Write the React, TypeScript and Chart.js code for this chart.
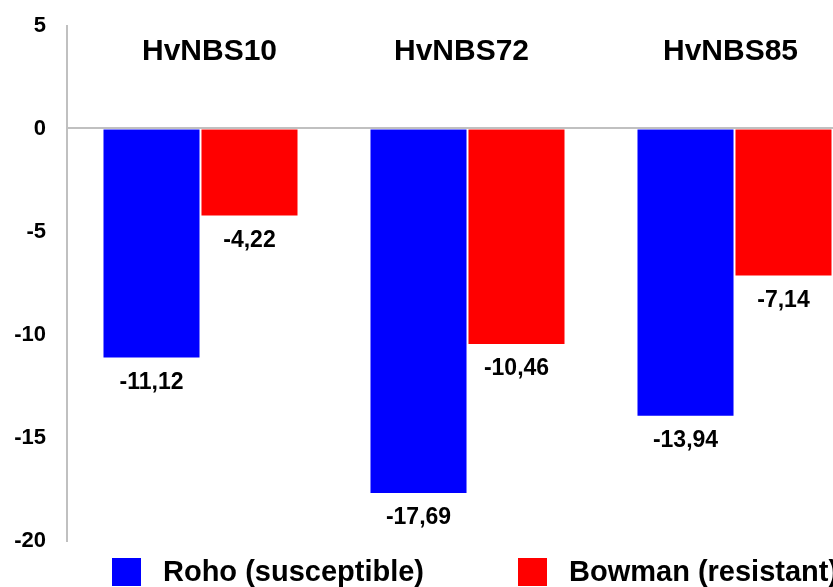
import React, { useEffect, useRef } from "react";
import { Chart, registerables } from "chart.js";

Chart.register(...registerables);

const categories = ["HvNBS10", "HvNBS72", "HvNBS85"];
const rohoValues = [-11.12, -17.69, -13.94];
const bowmanValues = [-4.22, -10.46, -7.14];
const seriesLabels = ["Roho (susceptible)", "Bowman (resistant)"];
const seriesColors = ["#0000ff", "#ff0000"];
const yMin = -20;
const yMax = 5;
const yStep = 5;

const FONT = "'Liberation Sans', Arial, Helvetica, sans-serif";

// layout-only horizontal nudges for the category titles
const titleNudges = [9, -6, -4];

const valueLabelPlugin = {
  id: "valueLabels",
  afterDatasetsDraw(chart: any) {
    const ctx = chart.ctx;
    ctx.save();
    ctx.font = `bold 23px ${FONT}`;
    ctx.fillStyle = "#000";
    ctx.textAlign = "center";
    ctx.textBaseline = "middle";
    chart.data.datasets.forEach((ds: any, di: number) => {
      const meta = chart.getDatasetMeta(di);
      meta.data.forEach((bar: any, i: number) => {
        const v = ds.data[i] as number;
        const txt = v.toFixed(2).replace(".", ",");
        ctx.fillText(txt, bar.x, bar.y + 25);
      });
    });
    ctx.restore();
  },
};

const categoryTitlePlugin = {
  id: "categoryTitles",
  afterDatasetsDraw(chart: any) {
    const ctx = chart.ctx;
    const xs = chart.scales.x;
    const ys = chart.scales.y;
    ctx.save();
    ctx.font = `bold 30px ${FONT}`;
    ctx.fillStyle = "#000";
    ctx.textAlign = "center";
    ctx.textBaseline = "middle";
    const y = ys.getPixelForValue(3.75);
    chart.data.labels.forEach((lab: string, i: number) => {
      ctx.fillText(lab, xs.getPixelForTick(i) + (titleNudges[i] || 0), y);
    });
    ctx.restore();
  },
};

const legendPositions = [112, 518];
const customLegendPlugin = {
  id: "customLegend",
  afterDraw(chart: any) {
    const ctx = chart.ctx;
    ctx.save();
    ctx.font = `bold 29px ${FONT}`;
    ctx.textAlign = "left";
    ctx.textBaseline = "alphabetic";
    chart.data.datasets.forEach((ds: any, i: number) => {
      const x = legendPositions[i];
      ctx.fillStyle = ds.backgroundColor;
      ctx.fillRect(x, 558, 29, 28);
      ctx.fillStyle = "#000";
      ctx.fillText(ds.label, x + 51, 581);
    });
    ctx.restore();
  },
};

export default function App() {
  const ref = useRef<HTMLCanvasElement | null>(null);

  useEffect(() => {
    if (!ref.current) return;
    const chart = new Chart(ref.current, {
      type: "bar",
      data: {
        labels: categories,
        datasets: [
          {
            label: seriesLabels[0],
            data: rohoValues,
            backgroundColor: seriesColors[0],
            borderWidth: 0,
          },
          {
            label: seriesLabels[1],
            data: bowmanValues,
            backgroundColor: seriesColors[1],
            borderWidth: 0,
          },
        ],
      },
      options: {
        responsive: false,
        animation: false,
        devicePixelRatio: 1,
        datasets: {
          bar: {
            barPercentage: 0.98,
            categoryPercentage: 0.734,
          },
        },
        layout: {
          padding: { left: 0, right: 32, top: 25.5, bottom: 59.5 },
        },
        plugins: {
          legend: { display: false },
          tooltip: { enabled: false },
        },
        scales: {
          x: {
            display: false,
          },
          y: {
            min: yMin,
            max: yMax,
            afterFit: (scale: any) => {
              scale.width = 67;
              scale.paddingTop = 0;
              scale.paddingBottom = 0;
            },
            ticks: {
              stepSize: yStep,
              padding: 21,
              color: "#000",
              font: { family: FONT, size: 22, weight: "bold" },
              callback: (v: any) => String(v),
            },
            grid: {
              drawTicks: false,
              lineWidth: 2,
              color: (c: any) => (c.tick && c.tick.value === 0 ? "#c0c0c0" : "rgba(0,0,0,0)"),
            },
            border: {
              display: true,
              color: "#c0c0c0",
              width: 2,
            },
          },
        },
      },
      plugins: [valueLabelPlugin, categoryTitlePlugin, customLegendPlugin],
    });
    return () => chart.destroy();
  }, []);

  return (
    <div
      style={{
        position: "fixed",
        left: 0,
        top: 0,
        width: 833,
        height: 587,
        overflow: "hidden",
        background: "#fff",
      }}
    >
      <canvas ref={ref} width={900} height={600} style={{ display: "block" }} />
    </div>
  );
}
